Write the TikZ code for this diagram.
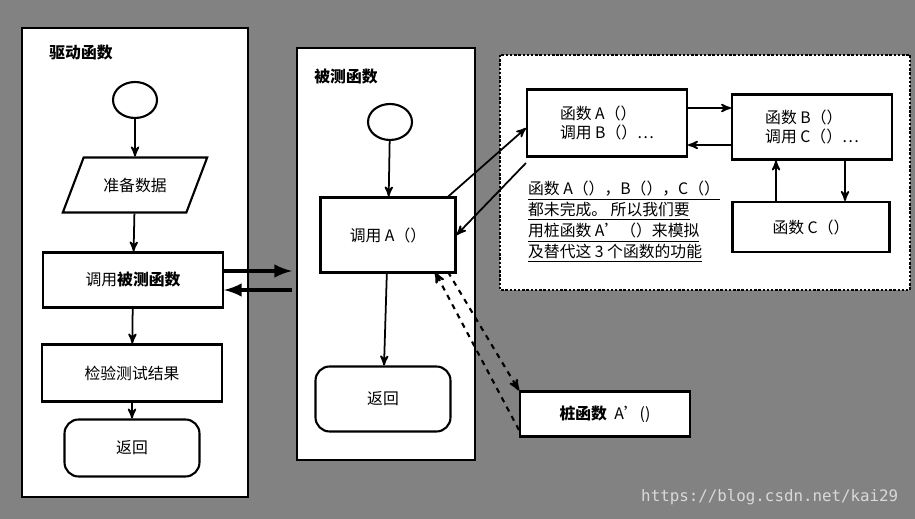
\documentclass[tikz,border=0pt]{standalone}
\usepackage{fontspec}
\setmainfont{Noto Sans CJK SC}
\setmonofont{DejaVu Sans Mono}
\usetikzlibrary{shapes,arrows,positioning}

\begin{document}
\begin{tikzpicture}
[x=0.02cm, y=-0.02cm, line width=1pt, >=stealth',
  panel/.style={draw=black, fill=white, line width=1.4pt},
  mybox/.style={rectangle, draw=black, line width=1.2pt, fill=white, font=\small},
  myterm/.style={rectangle, rounded corners=8pt, draw=black, line width=1.2pt, fill=white, font=\small},
  mystart/.style={ellipse, draw=black, line width=1.2pt, minimum width=8.8mm, minimum height=7.2mm},
  myio/.style={trapezium, trapezium left angle=60, trapezium right angle=120, draw=black, line width=1.2pt, fill=white, minimum width=29mm, minimum height=11mm, font=\small, trapezium stretches=true},
  thick arrow/.style={->, line width=2.4pt, >=latex},
  stub/.style={->, dashed, line width=1.2pt}
]
  \fill[gray!60!black!70] (0,0) rectangle (915,519);
  \useasboundingbox (0,0) rectangle (915,519);

  % panels
  \draw[panel] (22,28) rectangle (248,497);
  \draw[panel] (297,48) rectangle (475,460);
  \draw[panel, densely dotted, line width=1.6pt] (500,55) rectangle (910,290);
  \node[font=\small\bfseries] (drvtitle) at (81,53) {驱动函数};
  \node[font=\small\bfseries\itshape] (uuttitle) at (346,77) {被测函数};

  % driver flow
  \node[mystart] (drvstart) at (135,100) {};
  \node[myio] (prep) at (135,185) {准备数据};
  \node[mybox, minimum width=36mm, minimum height=11mm] (callut) at (133,280) {\itshape 调用\bfseries 被测函数};
  \node[mybox, minimum width=36mm, minimum height=11.4mm] (check) at (132,373) {检验测试结果};
  \node[myterm, minimum width=27mm, minimum height=11.4mm] (drvret) at (132,448) {返回};
  \draw[->] (drvstart) -- (prep);
  \draw[->] (prep) -- (callut);
  \draw[->] (callut) -- (check);
  \draw[->] (check) -- (drvret);

  % unit under test
  \node[mystart] (uutstart) at (390,122) {};
  \node[mybox, minimum width=27mm, minimum height=15mm] (callA) at (388,235) {调用 A（）};
  \node[myterm, minimum width=27mm, minimum height=13mm] (uutret) at (383,399) {返回};
  \draw[->] (uutstart) -- (callA);
  \draw[->] (callA) -- (uutret);

  \draw[thick arrow] (callut.east |- 0,271) -- (292,271);
  \draw[thick arrow] (292,290) -- (callut.east |- 0,290);

  % functions A, B, C
  \node[mybox, minimum width=32mm, minimum height=13.4mm, align=left] (funA) at (607,123) {函数 A（）\\调用 B（）…};
  \node[mybox, minimum width=32mm, minimum height=13mm, align=left] (funB) at (812,127) {函数 B（）\\调用 C（）…};
  \node[mybox, minimum width=31.4mm, minimum height=10mm] (funC) at (811,227) {函数 C（）};
  \draw[->] (funA.east |- 0,108) -- (funB.west |- 0,108);
  \draw[->] (funB.west |- 0,145) -- (funA.east |- 0,145);
  \draw[->] (funC.north -| 776,0) -- (funB.south -| 776,0);
  \draw[->] (funB.south -| 845,0) -- (funC.north -| 845,0);

  \draw[->] (callA.north east |- 0,198) ++(-10,0) -- (funA.west |- 0,128);
  \draw[->] (funA.west |- 0,163) -- (callA.east |- 0,235);

  \node[font=\small, align=left, inner sep=0pt] (note) at (624,222)
    {\underline{函数 A（），B（），C（）}\\[1pt]\underline{都未完成。 所以我们要}\\[1pt]\underline{用桩函数 A'（）来模拟}\\[1pt]\underline{及替代这 3 个函数的功能}};

  % stub
  \node[mybox, minimum width=34mm, minimum height=9mm] (stubA) at (605,414) {\bfseries 桩函数\ \ \mdseries A'()};
  \draw[stub] (448,272) -- (stubA.north west);
  \draw[stub] (stubA.west |- 0,430) -- (435,272);

  \node[font=\ttfamily\small, text=white!85!black, anchor=east] (mark) at (905,497) {https://blog.csdn.net/kai29};
\end{tikzpicture}
\end{document}
